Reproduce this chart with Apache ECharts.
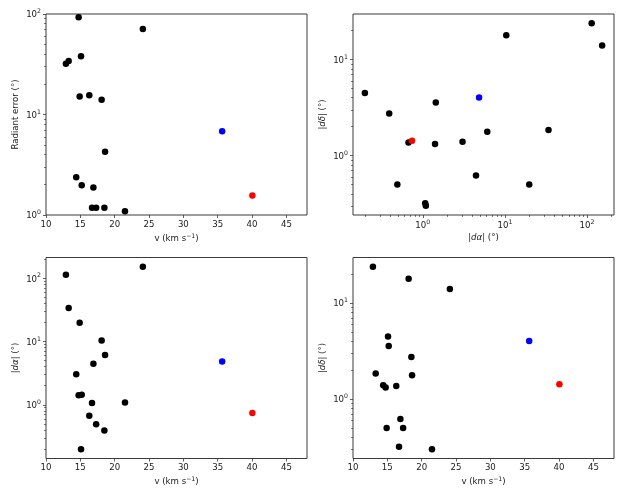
<!DOCTYPE html>
<html>
<head>
<meta charset="utf-8">
<title>Radiant error vs speed</title>
<script src="https://cdn.jsdelivr.net/npm/echarts@6/dist/echarts.min.js"></script>
<style>
  html, body { margin: 0; padding: 0; background: #fff; }
  #chart { width: 623px; height: 498px; }
</style>
</head>
<body>
<div id="chart"></div>
<script>
// one entry per meteor, same order in every array
const speed      = [12.9, 13.3, 14.4, 14.75, 14.9, 15.1, 15.2, 16.3, 16.7, 16.9, 17.3, 18.1, 18.5, 18.6, 21.5, 24.1];
const radiantErr = [31.9, 34.1, 2.38, 93, 15.1, 38, 1.98, 15.5, 1.18, 1.88, 1.18, 14.0, 1.18, 4.27, 1.09, 70.8];
const dAlpha     = [114, 34, 3.05, 1.41, 19.8, 0.197, 1.44, 0.67, 1.07, 4.45, 0.49, 10.4, 0.39, 6.1, 1.09, 153];
const dDelta     = [23.9, 1.85, 1.39, 1.32, 0.50, 4.47, 3.57, 1.37, 0.32, 0.62, 0.50, 17.9, 2.74, 1.77, 0.30, 14.0];

// the two highlighted meteors (blue, red)
const hiSpeed  = [35.65, 40.05];
const hiErr    = [6.8, 1.56];
const hiDAlpha = [4.85, 0.74];
const hiDDelta = [4.02, 1.43];
const hiColors = ['#0000ff', '#ff0000'];

const speedTicks  = [10, 15, 20, 25, 30, 35, 40, 45];
const decadeTicks = [0.1, 1, 10, 100];
const minorSteps  = [2, 3, 4, 5, 6, 7, 8, 9];

const font = 'DejaVu Sans';
const ink = '#1a1a1a';
const spine = '#3a3a3a';
const fs = 8.6;

const minorTicks = [];
decadeTicks.forEach(d => minorSteps.forEach(k => minorTicks.push(+(d * k).toPrecision(3))));

// matplotlib-like autoscale on a log axis: 5% margin in log space
const logRange = (vals) => {
    const lo = Math.log10(Math.min(...vals)), hi = Math.log10(Math.max(...vals));
    const m = (hi - lo) * 0.05;
    return [Math.pow(10, lo - m), Math.pow(10, hi + m)];
};
const alphaRange = logRange(dAlpha.concat(hiDAlpha));
const deltaRange = logRange(dDelta.concat(hiDDelta));
const errRange = [1, 100];

const txt = { fontFamily: font, fontSize: fs, color: ink };
const rich = {
    n: { fontFamily: font, fontSize: fs, color: ink },
    i: { fontFamily: font, fontSize: fs, color: ink, fontStyle: 'italic' },
    b: { fontFamily: font, fontSize: fs, color: ink, lineHeight: 11, verticalAlign: 'bottom' },
    s: { fontFamily: font, fontSize: 6.2, color: ink, lineHeight: 11, verticalAlign: 'top' }
};
const powLabel = (v) => '{b|10}{s|' + Math.round(Math.log10(v)) + '}';

const speedName = '{n|v (km s}{s|−1}{n|)}';
const errName = '{n|Radiant error (°)}';
const alphaName = '{n||}{i|dα}{n|| (°)}';
const deltaName = '{n||}{i|dδ}{n|| (°)}';

const tickLine = { color: spine, width: 0.8 };

function speedAxis(g) {
    return {
        type: 'value', gridIndex: g, min: 10, max: 48,
        name: speedName, nameLocation: 'middle', nameGap: 18,
        nameTextStyle: Object.assign({ rich: rich }, txt),
        axisLine: { show: false },
        axisTick: { customValues: speedTicks, length: 3, lineStyle: tickLine },
        axisLabel: Object.assign({ customValues: speedTicks, margin: 5 }, txt),
        splitLine: { show: false }
    };
}

function logAxis(g, range, name, vertical) {
    return {
        type: 'log', logBase: 10, gridIndex: g, min: range[0], max: range[1],
        position: vertical ? 'left' : 'bottom',
        name: name, nameLocation: 'middle', nameGap: vertical ? 26 : 18,
        nameRotate: vertical ? 90 : 0,
        nameTextStyle: Object.assign({ rich: rich }, txt),
        axisLine: { show: false },
        axisTick: { customValues: decadeTicks, length: 3, lineStyle: tickLine },
        axisLabel: Object.assign({ customValues: decadeTicks, margin: vertical ? 5 : 4, formatter: powLabel, rich: rich }, txt),
        splitLine: { show: false }
    };
}

function minorAxis(g, range, vertical) {
    return {
        type: 'log', logBase: 10, gridIndex: g, min: range[0], max: range[1],
        position: vertical ? 'left' : 'bottom',
        axisLine: { show: false },
        axisTick: { customValues: minorTicks, length: 1.8, lineStyle: tickLine },
        axisLabel: { show: false },
        splitLine: { show: false }
    };
}

const grids = [
    { left: 46, top: 14, width: 261, height: 201 },
    { left: 353, top: 14, width: 261, height: 201 },
    { left: 46, top: 257.5, width: 261, height: 201 },
    { left: 353, top: 257.5, width: 261, height: 201 }
].map(g => Object.assign({ show: true, borderColor: spine, borderWidth: 1, containLabel: false }, g));

const xAxes = [
    speedAxis(0),
    logAxis(1, alphaRange, alphaName, false),
    speedAxis(2),
    speedAxis(3),
    minorAxis(1, alphaRange, false)
];
const yAxes = [
    logAxis(0, errRange, errName, true),
    logAxis(1, deltaRange, deltaName, true),
    logAxis(2, alphaRange, alphaName, true),
    logAxis(3, deltaRange, deltaName, true),
    minorAxis(0, errRange, true),
    minorAxis(1, deltaRange, true),
    minorAxis(2, alphaRange, true),
    minorAxis(3, deltaRange, true)
];

const panels = [
    { xs: speed, ys: radiantErr, hx: hiSpeed, hy: hiErr },
    { xs: dAlpha, ys: dDelta, hx: hiDAlpha, hy: hiDDelta },
    { xs: speed, ys: dAlpha, hx: hiSpeed, hy: hiDAlpha },
    { xs: speed, ys: dDelta, hx: hiSpeed, hy: hiDDelta }
];

const series = [];
panels.forEach((p, k) => {
    series.push({
        type: 'scatter', xAxisIndex: k, yAxisIndex: k, symbolSize: 6.5,
        itemStyle: { color: '#000', opacity: 1 },
        data: p.xs.map((x, i) => [x, p.ys[i]])
    });
    series.push({
        type: 'scatter', xAxisIndex: k, yAxisIndex: k, symbolSize: 6.5,
        itemStyle: { opacity: 1 },
        data: p.hx.map((x, i) => ({ value: [x, p.hy[i]], itemStyle: { color: hiColors[i], opacity: 1 } }))
    });
});

const chart = echarts.init(document.getElementById('chart'));
chart.setOption({
    animation: false,
    backgroundColor: '#fff',
    textStyle: { fontFamily: font },
    grid: grids,
    xAxis: xAxes,
    yAxis: yAxes,
    series: series
});
</script>
</body>
</html>
